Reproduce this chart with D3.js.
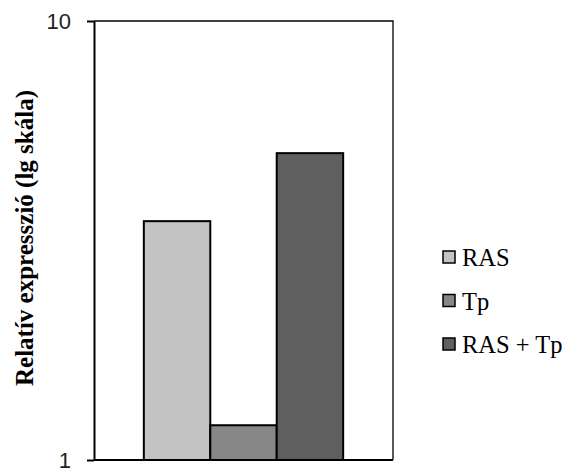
<!DOCTYPE html>
<html>
<head>
<meta charset="utf-8">
<script src="https://cdn.jsdelivr.net/npm/d3@7"></script>
<style>
  body { margin: 0; background: #fff; }
  svg { display: block; }
</style>
</head>
<body>
<svg width="569" height="470"></svg>
<script>
'use strict';

var series = ['RAS', 'Tp', 'RAS + Tp'],
    values = [3.5, 1.2, 5.0],
    colors = ['#c3c3c3', '#878787', '#5f5f5f'],
    yTicks = [1, 10],
    yTitle = 'Relatív expresszió (lg skála)';

var svg = d3.select('svg'),
    plotLeft = 94, plotRight = 393, plotTop = 21, plotBottom = 460,
    serif = '"Liberation Serif", "Times New Roman", serif';

var y = d3.scaleLog().domain([1, 10]).range([plotBottom, plotTop]);
var x = d3.scaleBand().domain(series).range([plotLeft, plotRight])
    .paddingInner(0).paddingOuter(0.75);

// frame (top + right thinner)
svg.append('path')
    .attr('d', 'M' + plotLeft + ',' + plotTop + 'H' + plotRight + 'V' + plotBottom)
    .attr('fill', 'none')
    .attr('stroke', '#000')
    .attr('stroke-width', 1.3);

// bars
svg.append('g').selectAll('rect')
    .data(values)
    .enter().append('rect')
    .attr('x', function (d, i) { return x(series[i]); })
    .attr('y', function (d) { return y(d); })
    .attr('width', x.bandwidth())
    .attr('height', function (d) { return y(1) - y(d); })
    .attr('fill', function (d, i) { return colors[i]; })
    .attr('stroke', '#000')
    .attr('stroke-width', 2);

// y axis
var yAxis = svg.append('g')
    .attr('transform', 'translate(' + plotLeft + ',0)')
    .call(d3.axisLeft(y).tickValues(yTicks).tickFormat(d3.format('d')).tickSize(7).tickSizeOuter(0).tickPadding(16));
yAxis.attr('font-family', '"Liberation Sans", Arial, sans-serif').attr('font-size', 22);
yAxis.selectAll('.tick text').attr('fill', '#222');
yAxis.select('.domain').attr('stroke-width', 2);
yAxis.selectAll('.tick line').attr('stroke-width', 2);

// x axis line
svg.append('line')
    .attr('x1', plotLeft).attr('x2', plotRight)
    .attr('y1', plotBottom).attr('y2', plotBottom)
    .attr('stroke', '#000')
    .attr('stroke-width', 2);

// y title
svg.append('text')
    .attr('transform', 'translate(33,238) rotate(-90)')
    .attr('text-anchor', 'middle')
    .attr('font-family', serif)
    .attr('font-weight', 'bold')
    .attr('font-size', 25)
    .text(yTitle);

// legend
var legend = svg.append('g').selectAll('g')
    .data(series)
    .enter().append('g')
    .attr('transform', function (d, i) { return 'translate(443,' + (257 + i * 43.5) + ')'; });
legend.append('rect')
    .attr('x', 0).attr('y', -6)
    .attr('width', 12).attr('height', 12)
    .attr('fill', function (d, i) { return colors[i]; })
    .attr('stroke', '#000')
    .attr('stroke-width', 1.5);
legend.append('text')
    .attr('x', 19).attr('y', 9)
    .attr('font-family', serif)
    .attr('font-size', 24.5)
    .text(function (d) { return d; });
</script>
</body>
</html>
